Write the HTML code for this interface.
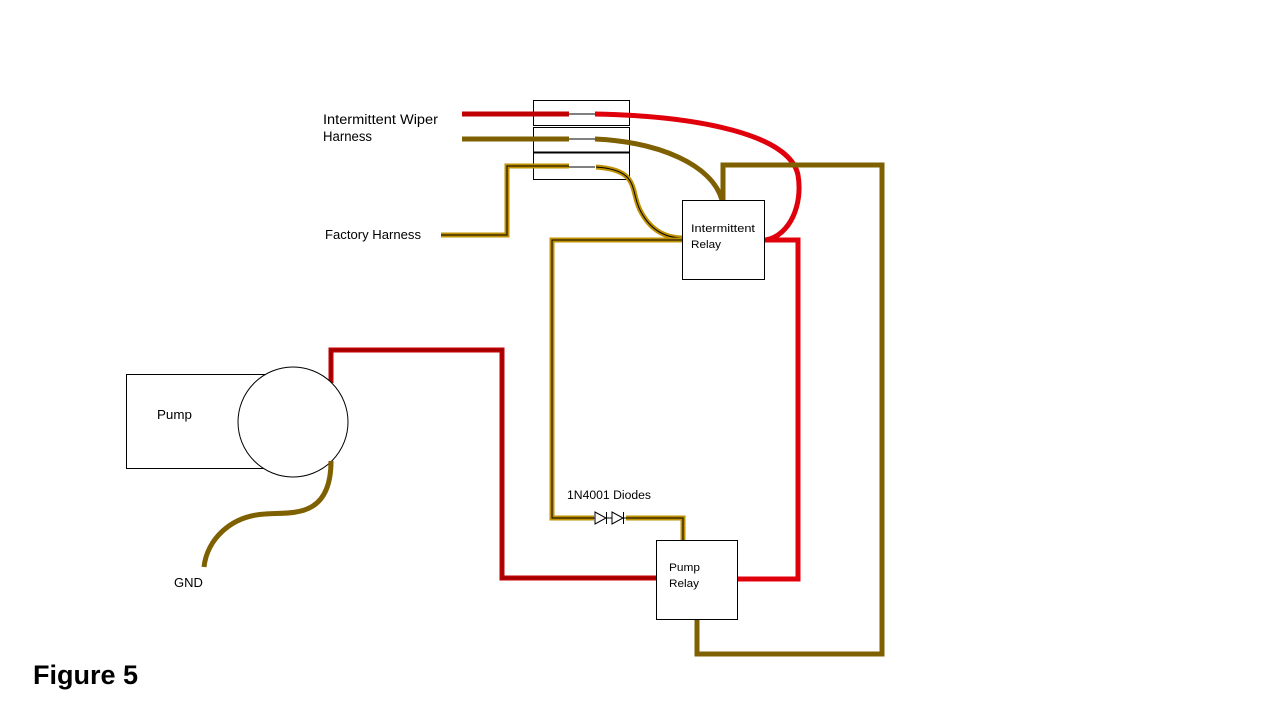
<!DOCTYPE html>
<html><head><meta charset="utf-8"><style>
html,body{margin:0;padding:0;background:#fff;}
svg{display:block;}
text{font-family:"Liberation Sans","DejaVu Sans",sans-serif;fill:#000;}
</style></head><body>
<svg width="1280" height="720" viewBox="0 0 1280 720" xmlns="http://www.w3.org/2000/svg">
<rect width="1280" height="720" fill="#fff"/>
<rect x="533.5" y="100.5" width="96" height="25" fill="#fff" stroke="#000" stroke-width="1"/>
<rect x="533.5" y="127.5" width="96" height="25" fill="#fff" stroke="#000" stroke-width="1"/>
<rect x="533.5" y="152.5" width="96" height="27" fill="#fff" stroke="#000" stroke-width="1"/>
<line x1="533" y1="152.5" x2="630" y2="152.5" stroke="#000" stroke-width="2"/>
<line x1="569" y1="114" x2="595" y2="114" stroke="#000" stroke-width="1"/>
<line x1="569" y1="139" x2="595" y2="139" stroke="#000" stroke-width="1"/>
<line x1="569" y1="167" x2="595" y2="167" stroke="#000" stroke-width="1"/>
<line x1="462" y1="114" x2="569" y2="114" stroke="#C00000" stroke-width="5"/>
<path d="M595,114 C700,116 790,135 798,175 C803,205 790,235 766,240" fill="none" stroke="#E0000B" stroke-width="5"/>
<line x1="462" y1="139" x2="569" y2="139" stroke="#7F6000" stroke-width="5"/>
<path d="M595,139 C660,142 712,165 722,200" fill="none" stroke="#7F6000" stroke-width="5"/>
<g fill="none" stroke-linejoin="miter">
<path d="M441,235 L507,235 L507,166 L569,166" stroke="#BF9000" stroke-width="5"/>
<path d="M441,235 L507,235 L507,166 L569,166" stroke="#000" stroke-width="1"/>
<path d="M596,167 C640,170 630,190 640,210 C650,230 665,238 683,238" stroke="#BF9000" stroke-width="5"/>
<path d="M596,167 C640,170 630,190 640,210 C650,230 665,238 683,238" stroke="#000" stroke-width="1"/>
<path d="M682,240 L552,240 L552,518 L594,518" stroke="#BF9000" stroke-width="5"/>
<path d="M682,240 L552,240 L552,518 L594,518" stroke="#000" stroke-width="1"/>
<path d="M626,518 L683,518 L683,546" stroke="#BF9000" stroke-width="5"/>
<path d="M626,518 L683,518 L683,546" stroke="#000" stroke-width="1"/>
</g>
<g stroke="#000" stroke-width="1" fill="#fff">
<line x1="588" y1="518" x2="632" y2="518"/>
<polygon points="595,512 595,524 606,518"/>
<line x1="606.5" y1="512" x2="606.5" y2="524"/>
<polygon points="612,512 612,524 623,518"/>
<line x1="623.5" y1="512" x2="623.5" y2="524"/>
</g>
<path d="M723,200 L723,165 L882,165 L882,654 L697,654 L697,619" fill="none" stroke="#7F6000" stroke-width="5"/>
<path d="M764,240 L798,240 L798,579 L737,579" fill="none" stroke="#E0000B" stroke-width="5"/>
<path d="M331,383 L331,350 L502,350 L502,578 L656,578" fill="none" stroke="#C00000" stroke-width="5"/>
<path d="M331,383 L331,350 L502,350 L502,578 L656,578" fill="none" stroke="#800000" stroke-width="1"/>
<rect x="682.5" y="200.5" width="82" height="79" fill="#fff" stroke="#000"/>
<text x="691" y="232" font-size="11" textLength="64" lengthAdjust="spacingAndGlyphs">Intermittent</text>
<text x="691" y="248" font-size="11" textLength="30" lengthAdjust="spacingAndGlyphs">Relay</text>
<rect x="656.5" y="540.5" width="81" height="79" fill="#fff" stroke="#000"/>
<text x="669" y="571" font-size="11" textLength="31" lengthAdjust="spacingAndGlyphs">Pump</text>
<text x="669" y="587" font-size="11" textLength="30" lengthAdjust="spacingAndGlyphs">Relay</text>
<rect x="126.5" y="374.5" width="170" height="94" fill="#fff" stroke="#000"/>
<circle cx="293" cy="422" r="55" fill="#fff" stroke="#000"/>
<text x="157" y="419" font-size="13" textLength="35" lengthAdjust="spacingAndGlyphs">Pump</text>
<path d="M331,461 C331,520 290,512 265,514 C230,516 207,540 204,567" fill="none" stroke="#7F6000" stroke-width="5"/>
<text x="174" y="587" font-size="13">GND</text>
<text x="323" y="124" font-size="13.5" textLength="115" lengthAdjust="spacingAndGlyphs">Intermittent Wiper</text>
<text x="323" y="141" font-size="13.5" textLength="49" lengthAdjust="spacingAndGlyphs">Harness</text>
<text x="325" y="239" font-size="12.5" textLength="96" lengthAdjust="spacingAndGlyphs">Factory Harness</text>
<text x="567" y="499" font-size="11.5" textLength="84" lengthAdjust="spacingAndGlyphs">1N4001 Diodes</text>
<text x="33" y="684" font-size="27" font-weight="bold">Figure 5</text>
</svg>
</body></html>
